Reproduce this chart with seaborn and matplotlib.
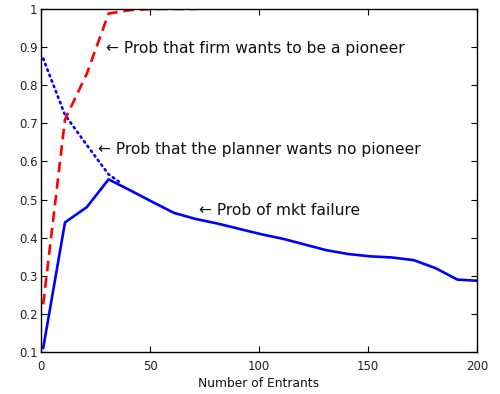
import matplotlib
matplotlib.use("Agg")
import matplotlib.pyplot as plt
import seaborn as sns
import pandas as pd

# Data
x_solid = [1, 11, 21, 31, 41, 51, 61, 71, 81, 91, 101, 111, 121, 131, 141, 151, 161, 171, 181, 191, 200]
mkt_failure = [0.11, 0.44, 0.48, 0.553, 0.524, 0.494, 0.465, 0.449, 0.437, 0.423, 0.409,
               0.397, 0.382, 0.367, 0.357, 0.351, 0.348, 0.341, 0.32, 0.29, 0.287]
x_firm = [1, 11, 21, 31, 41, 51, 61, 71]
firm_pioneer = [0.225, 0.71, 0.83, 0.988, 0.997, 1.0, 1.0, 1.0]
x_planner = [1, 11, 21, 31, 36]
planner_none = [0.87, 0.722, 0.643, 0.566, 0.546]

xticks = [0, 50, 100, 150, 200]
yticks = [0.1, 0.2, 0.3, 0.4, 0.5, 0.6, 0.7, 0.8, 0.9, 1.0]
ytick_labels = ["0.1", "0.2", "0.3", "0.4", "0.5", "0.6", "0.7", "0.8", "0.9", "1"]

sns.set_style("white")
plt.rcParams['font.family'] = ['DejaVu Sans']

fig = plt.figure(figsize=(5.0, 3.94), dpi=100)
ax = fig.add_axes([0.082, 0.1066, 0.872, 0.8706])

df_s = pd.DataFrame({"x": x_solid, "y": mkt_failure})
df_f = pd.DataFrame({"x": x_firm, "y": firm_pioneer})
df_p = pd.DataFrame({"x": x_planner, "y": planner_none})

sns.lineplot(data=df_p, x="x", y="y", ax=ax, color="#0000ff", lw=1.9,
             linestyle=(0, (0.6, 1.6)), dash_capstyle="round")
sns.lineplot(data=df_f, x="x", y="y", ax=ax, color="#ff0000", lw=1.9,
             linestyle=(0, (4.0, 2.3)))
sns.lineplot(data=df_s, x="x", y="y", ax=ax, color="#0000ff", lw=1.9)

ax.set_xlim(0, 200)
ax.set_ylim(0.1, 1.0)
ax.set_xticks(xticks)
ax.set_xticklabels([str(t) for t in xticks])
ax.set_yticks(yticks)
ax.set_yticklabels(ytick_labels)
ax.tick_params(axis="both", direction="in", length=4, width=0.8, labelsize=8.5,
               top=True, right=True, bottom=True, left=True, colors="black")
ax.tick_params(axis="y", pad=2.5)
ax.tick_params(axis="x", pad=6)
ax.tick_params(axis="both", labelcolor="#222222")
for s in ax.spines.values():
    s.set_visible(True)
    s.set_color("black")
    s.set_linewidth(1.0)
ax.set_xlabel("Number of Entrants", fontsize=8.8, labelpad=3, color="#111111")
ax.set_ylabel("")

fs = 11.2
ax.text(30.0, 0.884, "\u2190 Prob that firm wants to be a pioneer", fontsize=fs, va="baseline", ha="left", color="#111111")
ax.text(26.3, 0.619, "\u2190 Prob that the planner wants no pioneer", fontsize=fs, va="baseline", ha="left", color="#111111")
ax.text(72.5, 0.459, "\u2190 Prob of mkt failure", fontsize=fs, va="baseline", ha="left", color="#111111")

fig.savefig("out.png", dpi=100, facecolor="white")
